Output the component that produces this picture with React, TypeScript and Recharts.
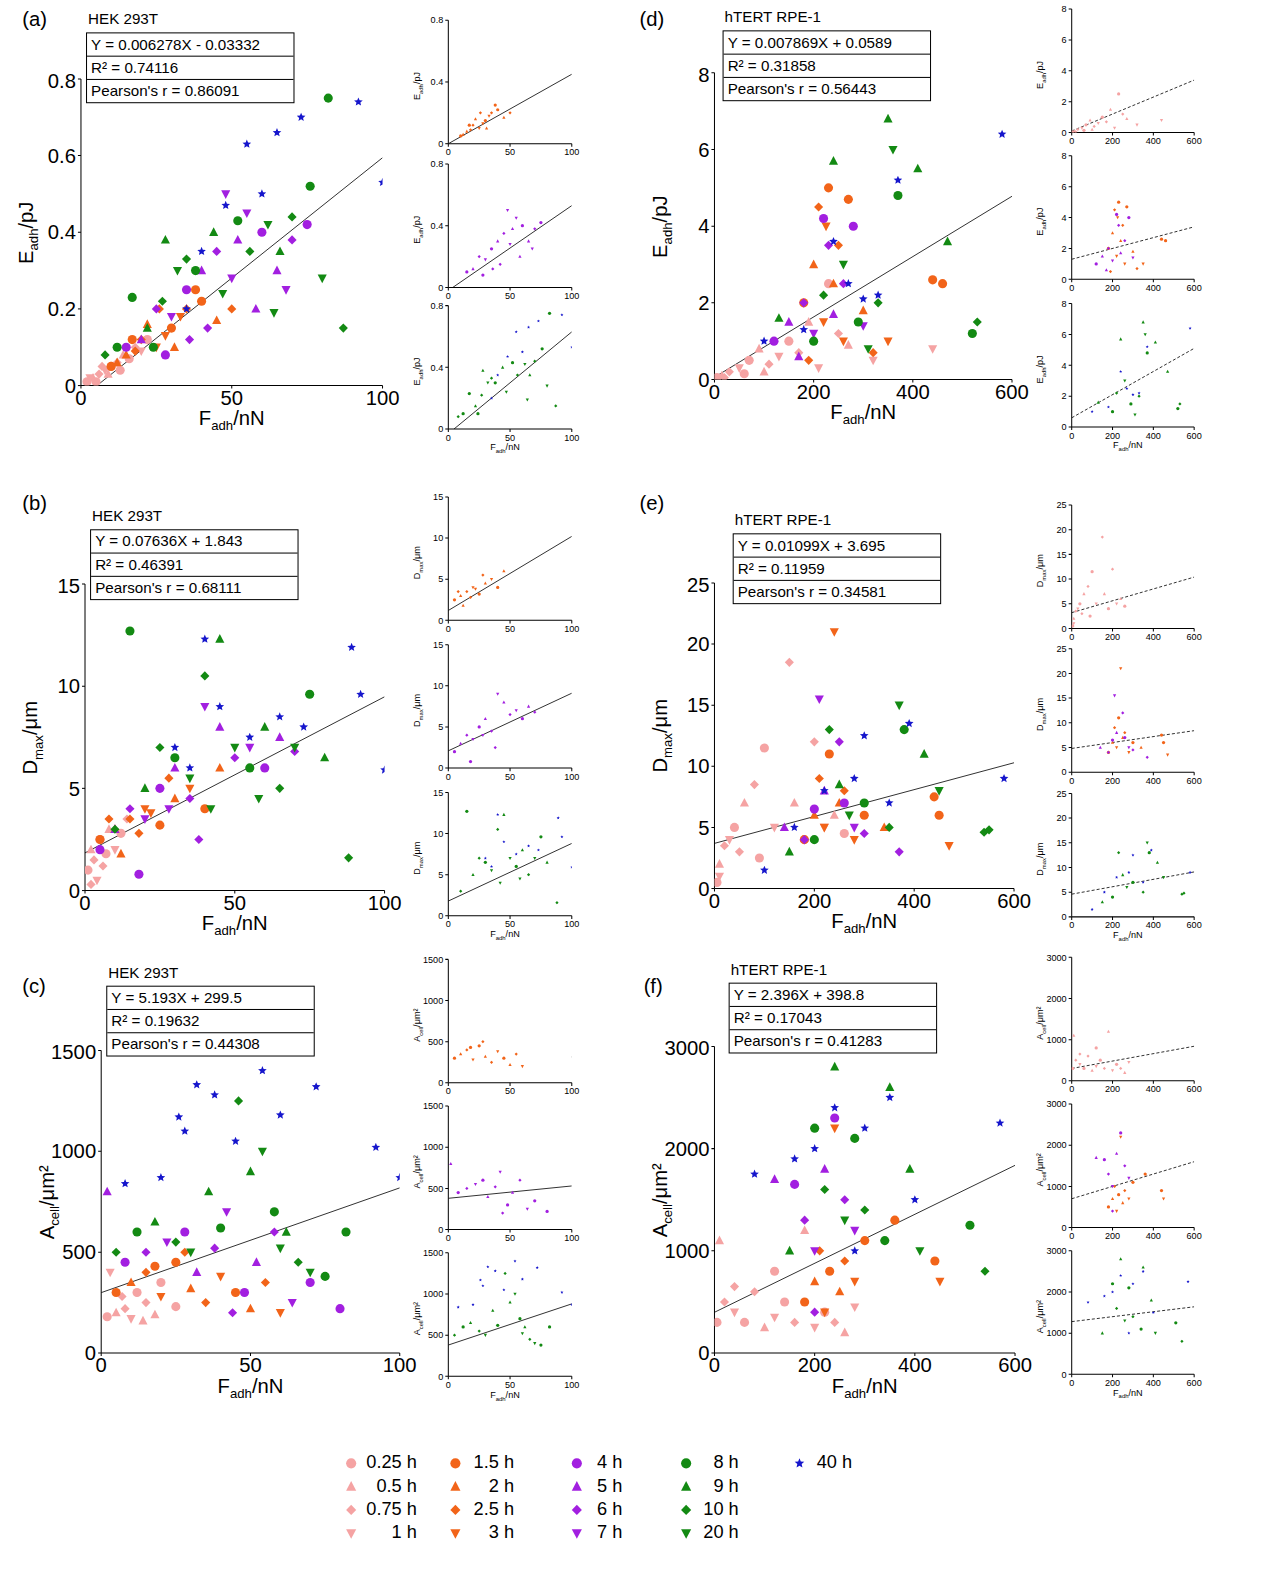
import React from 'react'
import { ScatterChart, Scatter, XAxis, YAxis, ReferenceLine } from 'recharts'

type P = [number, number, number]

// shape codes: 0 circle, 1 triangle, 2 diamond, 3 down-triangle, 4 star
const aPink: P[] = [[2,0.01,0],[4,0.02,1],[6,0.03,2],[8,0.04,3],[10,0.05,0],[12,0.06,2],[3,0.02,3],[14,0.08,1],[16,0.07,0],[18,0.1,2],[5,0.01,0],[20,0.09,3],[9,0.03,1],[22,0.12,0],[7,0.05,2],[13,0.04,0]]
const aOrange: P[] = [[10,0.05,0],[15,0.08,1],[20,0.12,2],[25,0.1,3],[30,0.15,0],[22,0.16,1],[35,0.2,2],[28,0.13,3],[40,0.22,0],[18,0.09,2],[45,0.17,1],[33,0.18,3],[50,0.2,2],[12,0.06,1],[38,0.25,0],[26,0.2,2],[17,0.12,0],[31,0.1,1]]
const aPurple: P[] = [[15,0.1,0],[20,0.12,1],[25,0.2,2],[30,0.18,3],[35,0.25,0],[40,0.3,1],[45,0.35,2],[50,0.28,3],[55,0.45,3],[60,0.4,0],[65,0.3,1],[70,0.38,2],[75,0.42,0],[48,0.5,3],[42,0.15,2],[58,0.2,1],[28,0.08,0],[68,0.25,3],[36,0.12,2],[52,0.38,1]]
const aGreen: P[] = [[8,0.08,2],[12,0.1,0],[17,0.23,0],[22,0.15,1],[27,0.22,2],[32,0.3,3],[28,0.38,1],[38,0.3,0],[44,0.4,1],[52,0.43,0],[56,0.35,2],[62,0.42,3],[66,0.35,1],[70,0.44,2],[76,0.52,0],[80,0.28,3],[82,0.75,0],[87,0.15,2],[47,0.24,3],[64,0.19,3],[24,0.1,0],[35,0.33,2]]
const aBlue: P[] = [[40,0.35,4],[48,0.47,4],[55,0.63,4],[65,0.66,4],[73,0.7,4],[92,0.74,4],[100,0.53,4],[35,0.2,4],[60,0.5,4]]

const bPink: P[] = [[1,1,0],[2,2,1],[3,1.5,2],[4,0.5,3],[5,2.5,0],[6,1.2,2],[8,3,1],[10,2,3],[12,2.8,0],[2,0.3,2],[7,1.8,0],[14,3.5,2]]
const bOrange: P[] = [[5,2.5,0],[10,3,1],[15,3.5,2],[20,4,3],[25,3.2,0],[30,4.5,1],[18,2.8,2],[35,5,3],[12,1.8,1],[28,5.5,2],[40,4,0],[22,3.8,3],[8,3.5,2],[45,6,1]]
const bPurple: P[] = [[5,2,0],[10,3,1],[15,4,2],[20,3.5,3],[25,5,0],[30,6,1],[35,4.5,2],[40,9,3],[45,8,1],[50,6.5,2],[55,7,3],[60,6,0],[65,7.5,1],[70,6.8,2],[18,0.8,0],[38,2.5,2],[28,4,3]]
const bGreen: P[] = [[10,3,2],[15,12.7,0],[20,5,1],[25,7,2],[30,6.5,0],[35,5.5,3],[40,10.5,2],[45,12.3,1],[50,7,3],[55,6,0],[60,8,1],[65,5,2],[70,7,3],[75,9.6,0],[80,6.5,1],[88,1.6,2],[42,4,3],[58,4.5,3]]
const bBlue: P[] = [[30,7,4],[40,12.3,4],[45,9,4],[55,7.5,4],[65,8.5,4],[73,8,4],[89,11.9,4],[92,9.6,4],[100,5.9,4],[35,6,4]]

const cPink: P[] = [[2,180,0],[5,200,1],[8,220,2],[10,170,3],[12,300,0],[15,250,2],[18,190,1],[20,350,0],[3,400,3],[7,280,2],[25,230,0],[14,160,1]]
const cOrange: P[] = [[5,300,0],[10,350,1],[15,400,2],[20,280,3],[25,450,0],[30,320,1],[35,250,2],[40,380,3],[45,300,0],[50,220,1],[55,350,2],[60,200,3],[18,430,0],[28,500,2]]
const cPurple: P[] = [[2,800,1],[8,450,0],[15,500,2],[22,550,3],[28,600,0],[32,400,1],[38,520,2],[42,700,3],[48,300,0],[52,450,1],[58,600,2],[64,250,3],[70,350,0],[80,220,0],[44,200,2]]
const cGreen: P[] = [[5,500,2],[12,600,0],[18,650,1],[25,550,2],[30,500,3],[36,800,1],[40,620,0],[46,1250,2],[50,900,1],[54,1000,3],[58,700,0],[62,600,1],[66,450,2],[70,400,3],[75,380,0],[82,600,0],[60,520,3]]
const cBlue: P[] = [[8,840,4],[20,870,4],[26,1170,4],[32,1330,4],[38,1280,4],[45,1050,4],[54,1400,4],[60,1180,4],[72,1320,4],[92,1020,4],[100,870,4],[28,1100,4]]

const dPink: P[] = [[5,0.05,0],[15,0.1,1],[30,0.2,2],[50,0.3,3],[70,0.5,0],[90,0.8,1],[110,0.4,2],[130,0.6,3],[150,1,0],[170,0.7,2],[190,1.5,1],[210,0.3,3],[230,2.5,0],[250,1.2,2],[270,0.9,1],[320,0.5,3],[440,0.8,3],[20,0.05,2],[60,0.15,0],[100,0.2,1]]
const dOrange: P[] = [[180,2,0],[200,3,1],[210,4.5,2],[220,1.5,3],[230,5,0],[240,2.5,1],[250,3.5,2],[260,1,3],[270,4.7,0],[300,1.8,1],[320,0.7,2],[350,1,3],[440,2.6,0],[460,2.5,0],[190,0.5,2],[225,4,3]]
const dPurple: P[] = [[120,1,0],[150,1.5,1],[180,2,2],[200,1.2,3],[220,4.2,0],[240,1.7,1],[260,2.5,2],[280,4,0],[300,1.4,3],[230,3.5,2],[170,0.6,1]]
const dGreen: P[] = [[130,1.6,1],[200,1,0],[220,2.2,2],[240,5.7,1],[260,3,3],[290,1.5,0],[330,2,2],[350,6.8,1],[360,6,3],[370,4.8,0],[410,5.5,1],[470,3.6,1],[520,1.2,0],[530,1.5,2],[310,0.8,3]]
const dBlue: P[] = [[100,1,4],[240,3.6,4],[270,2.5,4],[300,2.1,4],[330,2.2,4],[370,5.2,4],[580,6.4,4],[180,1.3,4]]

const ePink: P[] = [[5,0.5,0],[10,2,1],[20,3.5,2],[30,4,3],[40,5,0],[60,7,1],[80,8.5,2],[100,11.5,0],[120,5,3],[150,18.5,2],[160,7,1],[180,4,0],[200,12,2],[220,5,3],[240,6,1],[260,4.5,0],[10,1,3],[50,3,2],[90,2.5,0]]
const eOrange: P[] = [[180,4,0],[200,6,1],[210,9,2],[220,5,3],[230,11,0],[240,21,3],[250,7,1],[260,8,2],[280,4,3],[300,6,0],[340,5,1],[440,7.5,0],[450,6,0],[470,3.5,3]]
const ePurple: P[] = [[140,5,1],[180,4,2],[200,6.5,0],[210,15.5,3],[220,8,1],[250,12,2],[260,7,0],[280,5,3],[300,4.5,2],[370,3,2]]
const eGreen: P[] = [[150,3,1],[200,4,0],[230,13,2],[250,8.5,1],[270,6,3],[300,7,0],[350,5,2],[370,15,3],[380,13,0],[420,11,1],[450,8,3],[540,4.6,2],[550,4.8,2]]
const eBlue: P[] = [[100,1.5,4],[160,5,4],[220,8,4],[280,9,4],[300,12.5,4],[350,7,4],[390,13.5,4],[580,9,4]]

const fPink: P[] = [[5,300,0],[10,1100,1],[20,500,2],[40,400,3],[60,300,0],[80,600,2],[100,250,1],[120,350,3],[140,500,0],[160,300,2],[180,1200,1],[200,250,3],[220,400,0],[240,300,2],[260,200,1],[280,450,3],[40,650,2],[120,800,0]]
const fOrange: P[] = [[180,500,0],[200,700,1],[210,1000,2],[220,400,3],[230,800,0],[240,2200,3],[250,600,1],[260,900,2],[280,700,3],[300,1100,0],[360,1300,0],[440,900,0],[450,700,3]]
const fPurple: P[] = [[120,1700,1],[160,1650,0],[180,1300,2],[200,1000,3],[220,1800,1],[240,2300,0],[260,1500,2],[280,1200,3],[200,400,2]]
const fGreen: P[] = [[150,1000,1],[200,2200,0],[220,1600,2],[240,2800,1],[260,1300,3],[280,2100,0],[300,1400,2],[340,1100,0],[350,2600,1],[390,1800,1],[410,1000,3],[510,1250,0],[540,800,2]]
const fBlue: P[] = [[80,1750,4],[160,1900,4],[200,2000,4],[240,2400,4],[280,1000,4],[300,2200,4],[350,2500,4],[400,1500,4],[570,2250,4]]

// fits [slope, intercept]
const fitA: [number, number] = [0.006278, -0.03332]
const fitB: [number, number] = [0.07636, 1.843]
const fitC: [number, number] = [5.193, 299.5]
const fitD: [number, number] = [0.007869, 0.0589]
const fitE: [number, number] = [0.01099, 3.695]
const fitF: [number, number] = [2.396, 398.8]
const insetFitsA: [number, number][] = [[0.0045, 0.0], [0.0055, -0.02], [0.0066, -0.03]]
const insetFitsB: [number, number][] = [[0.09, 1.2], [0.07, 2.1], [0.07, 1.8]]
const insetFitsC: [number, number][] = [[-0.3, 345], [1.5, 380], [5.0, 380]]
const insetFitsD: [number, number][] = [[0.0055, 0.1], [0.0035, 1.3], [0.0075, 0.6]]
const insetFitsE: [number, number][] = [[0.012, 3.2], [0.006, 4.8], [0.0075, 4.6]]
const insetFitsF: [number, number][] = [[0.9, 300], [1.5, 700], [0.6, 1280]]

const equations = {
  a: ['Y = 0.006278X - 0.03332', 'R² = 0.74116', "Pearson's r = 0.86091"],
  b: ['Y = 0.07636X + 1.843', 'R² = 0.46391', "Pearson's r = 0.68111"],
  c: ['Y = 5.193X + 299.5', 'R² = 0.19632', "Pearson's r = 0.44308"],
  d: ['Y = 0.007869X + 0.0589', 'R² = 0.31858', "Pearson's r = 0.56443"],
  e: ['Y = 0.01099X + 3.695', 'R² = 0.11959', "Pearson's r = 0.34581"],
  f: ['Y = 2.396X + 398.8', 'R² = 0.17043', "Pearson's r = 0.41283"],
}

const legendCols = [
  ['0.25 h', '0.5 h', '0.75 h', '1 h'],
  ['1.5 h', '2 h', '2.5 h', '3 h'],
  ['4 h', '5 h', '6 h', '7 h'],
  ['8 h', '9 h', '10 h', '20 h'],
  ['40 h'],
]

const PINK = '#f5a3a3'
const ORANGE = '#f26419'
const PURPLE = '#a21fe0'
const GREEN = '#138a13'
const BLUE = '#1616cc'
const colColors = [PINK, ORANGE, PURPLE, GREEN, BLUE]
const FONT = '"Liberation Sans", Arial, sans-serif'
const SCALE = 1.012

function Marker({ cx, cy, s, r, color }: { cx: number; cy: number; s: number; r: number; color: string }) {
  if (s === 0) return <circle cx={cx} cy={cy} r={r} fill={color} />
  if (s === 1) return <polygon points={`${cx},${cy - r * 1.1} ${cx - r},${cy + r * 0.8} ${cx + r},${cy + r * 0.8}`} fill={color} />
  if (s === 2) return <polygon points={`${cx},${cy - r} ${cx + r},${cy} ${cx},${cy + r} ${cx - r},${cy}`} fill={color} />
  if (s === 3) return <polygon points={`${cx},${cy + r * 1.1} ${cx - r},${cy - r * 0.8} ${cx + r},${cy - r * 0.8}`} fill={color} />
  const pts: string[] = []
  for (let i = 0; i < 10; i++) {
    const a = -Math.PI / 2 + (i * Math.PI) / 5
    const rr = i % 2 === 0 ? r : r * 0.45
    pts.push(`${cx + rr * Math.cos(a)},${cy + rr * Math.sin(a)}`)
  }
  return <polygon points={pts.join(' ')} fill={color} />
}

type Group = { pts: P[]; color: string }

function Plot({ left, top, w, h, xMax, yMax, xTicks, yTicks, groups, fit, r, fs, dashed }: {
  left: number; top: number; w: number; h: number; xMax: number; yMax: number
  xTicks: number[]; yTicks: number[]; groups: Group[]; fit: [number, number]; r: number; fs: number; dashed?: boolean
}) {
  const yw = fs * 4
  const xh = fs * 2
  const x0 = Math.max(0, -fit[1] / fit[0] > 0 ? -fit[1] / fit[0] : 0)
  const x1 = Math.min(xMax, fit[0] < 0 ? xMax : (yMax - fit[1]) / fit[0])
  return (
    <div style={{ position: 'absolute', left: left - yw, top: top - 10 }}>
      <ScatterChart width={w + yw + 20} height={h + 10 + xh} margin={{ top: 10, right: 20, left: 0, bottom: 0 }}>
        <XAxis type="number" dataKey="x" domain={[0, xMax]} ticks={xTicks} height={xh} tickSize={3}
          tick={{ fontSize: fs, fill: '#000', fontFamily: FONT }} stroke="#000" allowDataOverflow />
        <YAxis type="number" dataKey="y" domain={[0, yMax]} ticks={yTicks} width={yw} tickSize={3}
          tick={{ fontSize: fs, fill: '#000', fontFamily: FONT }} stroke="#000" allowDataOverflow />
        {groups.map((g, i) => (
          <Scatter key={i} data={g.pts.map(p => ({ x: p[0], y: p[1], s: p[2] }))} isAnimationActive={false}
            shape={(props: any) => <Marker cx={props.cx} cy={props.cy} s={props.payload.s} r={r} color={g.color} />} />
        ))}
        <ReferenceLine segment={[{ x: x0, y: fit[0] * x0 + fit[1] }, { x: x1, y: fit[0] * x1 + fit[1] }]}
          stroke="#000" strokeWidth={0.8} strokeDasharray={dashed ? '3 2' : undefined} ifOverflow="hidden" />
      </ScatterChart>
    </div>
  )
}

function Lbl({ x, y, main, sub, unit, size, rot }: { x: number; y: number; main: string; sub: string; unit: string; size: number; rot?: boolean }) {
  return (
    <div style={{ position: 'absolute', left: x, top: y, transform: `translate(-50%,-50%)${rot ? ' rotate(-90deg)' : ''}`, fontSize: size, whiteSpace: 'nowrap', fontFamily: FONT }}>
      {main}<sub style={{ fontSize: '0.65em' }}>{sub}</sub>/{unit}
    </div>
  )
}

function Text({ x, y, t, size }: { x: number; y: number; t: string; size: number }) {
  return <div style={{ position: 'absolute', left: x, top: y, fontSize: size, fontFamily: FONT, whiteSpace: 'nowrap' }}>{t}</div>
}

function EqBox({ x, y, w, lines }: { x: number; y: number; w: number; lines: string[] }) {
  return (
    <div style={{ position: 'absolute', left: x, top: y, width: w, border: '1px solid #000', fontFamily: FONT, fontSize: 15 }}>
      {lines.map((l, i) => (
        <div key={i} style={{ height: 22, lineHeight: '22px', paddingLeft: 4, borderTop: i ? '1px solid #000' : 'none' }}>{l}</div>
      ))}
    </div>
  )
}

type PanelCfg = {
  letter: string; cell: string; ox: number; oy: number; plot: [number, number, number, number]
  xMax: number; yMax: number; xTicks: number[]; yTicks: number[]; groups: Group[]; fit: [number, number]
  ylab: [string, string, string]; eq: string[]; eqPos: [number, number, number]; insets: Group[][]; insetFits: [number, number][]
  insetX: [number, number]; insetTops: number[]; insetYTicks: number[]; insetXTicks: number[]; rpe: boolean
}

function Panel(c: PanelCfg) {
  const [pl, pt, pw, ph] = c.plot
  return (
    <>
      <Text x={c.ox} y={c.oy} t={`(${c.letter})`} size={20} />
      <Text x={c.eqPos[0] + 2} y={c.eqPos[1] - 22} t={c.cell} size={15} />
      <EqBox x={c.eqPos[0]} y={c.eqPos[1]} w={c.eqPos[2]} lines={c.eq} />
      <Plot left={pl} top={pt} w={pw} h={ph} xMax={c.xMax} yMax={c.yMax} xTicks={c.xTicks} yTicks={c.yTicks}
        groups={c.groups} fit={c.fit} r={4.5} fs={20} />
      <Lbl x={pl - 52} y={pt + ph / 2} main={c.ylab[0]} sub={c.ylab[1]} unit={c.ylab[2]} size={20} rot />
      <Lbl x={pl + pw / 2} y={pt + ph + 34} main="F" sub="adh" unit="nN" size={20} />
      {c.insets.map((g, i) => (
        <React.Fragment key={i}>
          <Plot left={c.insetX[0]} top={c.insetTops[i]} w={c.insetX[1] - c.insetX[0]} h={122} xMax={c.xMax}
            yMax={c.insetYTicks[c.insetYTicks.length - 1]} xTicks={c.insetXTicks} yTicks={c.insetYTicks}
            groups={g} fit={c.insetFits[i]} r={1.6} fs={9} dashed={c.rpe} />
          <Lbl x={c.insetX[0] - 30} y={c.insetTops[i] + 65} main={c.ylab[0]} sub={c.ylab[1]} unit={c.ylab[2]} size={9} rot />
        </React.Fragment>
      ))}
      <Lbl x={(c.insetX[0] + c.insetX[1]) / 2 - 5} y={c.insetTops[2] + 141} main="F" sub="adh" unit="nN" size={9} />
    </>
  )
}

const hekX: [number, number] = [443, 565]
const rpeX: [number, number] = [1059, 1180]

const panels: PanelCfg[] = [
  { letter: 'a', cell: 'HEK 293T', ox: 22, oy: 8, plot: [80, 78, 298, 303], xMax: 100, yMax: 0.8, xTicks: [0, 50, 100], yTicks: [0, 0.2, 0.4, 0.6, 0.8],
    groups: [{ pts: aPink, color: PINK }, { pts: aOrange, color: ORANGE }, { pts: aPurple, color: PURPLE }, { pts: aGreen, color: GREEN }, { pts: aBlue, color: BLUE }],
    fit: fitA, ylab: ['E', 'adh', 'pJ'], eq: equations.a, eqPos: [85, 32, 204],
    insets: [[{ pts: aOrange, color: ORANGE }], [{ pts: aPurple, color: PURPLE }], [{ pts: aGreen, color: GREEN }, { pts: aBlue, color: BLUE }]],
    insetFits: insetFitsA, insetX: hekX, insetTops: [20, 162, 302], insetYTicks: [0, 0.4, 0.8], insetXTicks: [0, 50, 100], rpe: false },
  { letter: 'b', cell: 'HEK 293T', ox: 22, oy: 486, plot: [84, 577, 296, 303], xMax: 100, yMax: 15, xTicks: [0, 50, 100], yTicks: [0, 5, 10, 15],
    groups: [{ pts: bPink, color: PINK }, { pts: bOrange, color: ORANGE }, { pts: bPurple, color: PURPLE }, { pts: bGreen, color: GREEN }, { pts: bBlue, color: BLUE }],
    fit: fitB, ylab: ['D', 'max', 'μm'], eq: equations.b, eqPos: [89, 523, 204],
    insets: [[{ pts: bOrange, color: ORANGE }], [{ pts: bPurple, color: PURPLE }], [{ pts: bGreen, color: GREEN }, { pts: bBlue, color: BLUE }]],
    insetFits: insetFitsB, insetX: hekX, insetTops: [491, 637, 783], insetYTicks: [0, 5, 10, 15], insetXTicks: [0, 50, 100], rpe: false },
  { letter: 'c', cell: 'HEK 293T', ox: 22, oy: 963, plot: [100, 1038, 295, 299], xMax: 100, yMax: 1500, xTicks: [0, 50, 100], yTicks: [0, 500, 1000, 1500],
    groups: [{ pts: cPink, color: PINK }, { pts: cOrange, color: ORANGE }, { pts: cPurple, color: PURPLE }, { pts: cGreen, color: GREEN }, { pts: cBlue, color: BLUE }],
    fit: fitC, ylab: ['A', 'cell', 'μm²'], eq: equations.c, eqPos: [105, 974, 204],
    insets: [[{ pts: cOrange, color: ORANGE }], [{ pts: cPurple, color: PURPLE }], [{ pts: cGreen, color: GREEN }, { pts: cBlue, color: BLUE }]],
    insetFits: insetFitsC, insetX: hekX, insetTops: [948, 1093, 1238], insetYTicks: [0, 500, 1000, 1500], insetXTicks: [0, 50, 100], rpe: false },
  { letter: 'd', cell: 'hTERT RPE-1', ox: 632, oy: 8, plot: [706, 72, 294, 303], xMax: 600, yMax: 8, xTicks: [0, 200, 400, 600], yTicks: [0, 2, 4, 6, 8],
    groups: [{ pts: dPink, color: PINK }, { pts: dOrange, color: ORANGE }, { pts: dPurple, color: PURPLE }, { pts: dGreen, color: GREEN }, { pts: dBlue, color: BLUE }],
    fit: fitD, ylab: ['E', 'adh', 'pJ'], eq: equations.d, eqPos: [714, 30, 204],
    insets: [[{ pts: dPink, color: PINK }], [{ pts: dOrange, color: ORANGE }, { pts: dPurple, color: PURPLE }], [{ pts: dGreen, color: GREEN }, { pts: dBlue, color: BLUE }]],
    insetFits: insetFitsD, insetX: rpeX, insetTops: [9, 154, 300], insetYTicks: [0, 2, 4, 6, 8], insetXTicks: [0, 200, 400, 600], rpe: true },
  { letter: 'e', cell: 'hTERT RPE-1', ox: 632, oy: 486, plot: [706, 576, 296, 302], xMax: 600, yMax: 25, xTicks: [0, 200, 400, 600], yTicks: [0, 5, 10, 15, 20, 25],
    groups: [{ pts: ePink, color: PINK }, { pts: eOrange, color: ORANGE }, { pts: ePurple, color: PURPLE }, { pts: eGreen, color: GREEN }, { pts: eBlue, color: BLUE }],
    fit: fitE, ylab: ['D', 'max', 'μm'], eq: equations.e, eqPos: [724, 527, 204],
    insets: [[{ pts: ePink, color: PINK }], [{ pts: eOrange, color: ORANGE }, { pts: ePurple, color: PURPLE }], [{ pts: eGreen, color: GREEN }, { pts: eBlue, color: BLUE }]],
    insetFits: insetFitsE, insetX: rpeX, insetTops: [499, 641, 784], insetYTicks: [0, 5, 10, 15, 20, 25], insetXTicks: [0, 200, 400, 600], rpe: true },
  { letter: 'f', cell: 'hTERT RPE-1', ox: 636, oy: 963, plot: [706, 1034, 297, 303], xMax: 600, yMax: 3000, xTicks: [0, 200, 400, 600], yTicks: [0, 1000, 2000, 3000],
    groups: [{ pts: fPink, color: PINK }, { pts: fOrange, color: ORANGE }, { pts: fPurple, color: PURPLE }, { pts: fGreen, color: GREEN }, { pts: fBlue, color: BLUE }],
    fit: fitF, ylab: ['A', 'cell', 'μm²'], eq: equations.f, eqPos: [720, 971, 204],
    insets: [[{ pts: fPink, color: PINK }], [{ pts: fOrange, color: ORANGE }, { pts: fPurple, color: PURPLE }], [{ pts: fGreen, color: GREEN }, { pts: fBlue, color: BLUE }]],
    insetFits: insetFitsF, insetX: rpeX, insetTops: [946, 1091, 1236], insetYTicks: [0, 1000, 2000, 3000], insetXTicks: [0, 200, 400, 600], rpe: true },
]

const legendX = [347, 450, 570, 678, 790]
const legendTextRight = [412, 508, 615, 730, 842]

export default function App() {
  return (
    <div style={{ position: 'absolute', left: 0, top: 0, width: 1268, height: 1585, background: '#fff', overflow: 'hidden' }}>
      <div style={{ position: 'absolute', left: 0, top: 0, width: 1250, height: 1565, transform: `scale(${SCALE})`, transformOrigin: '0 0', fontFamily: FONT }}>
        {panels.map(p => <Panel key={p.letter} {...p} />)}
        {legendCols.map((col, ci) => col.map((t, ri) => (
          <React.Fragment key={`${ci}-${ri}`}>
            <svg style={{ position: 'absolute', left: legendX[ci] - 7, top: 1446 + ri * 23 - 7 }} width={14} height={14}>
              <Marker cx={7} cy={7} s={ci === 4 ? 4 : ri === 0 ? 0 : ri === 1 ? 1 : ri === 2 ? 2 : 3} r={5} color={colColors[ci]} />
            </svg>
            <div style={{ position: 'absolute', right: 1250 - legendTextRight[ci], top: 1446 + ri * 23 - 11, fontSize: 18, whiteSpace: 'nowrap' }}>{t}</div>
          </React.Fragment>
        )))}
      </div>
    </div>
  )
}
